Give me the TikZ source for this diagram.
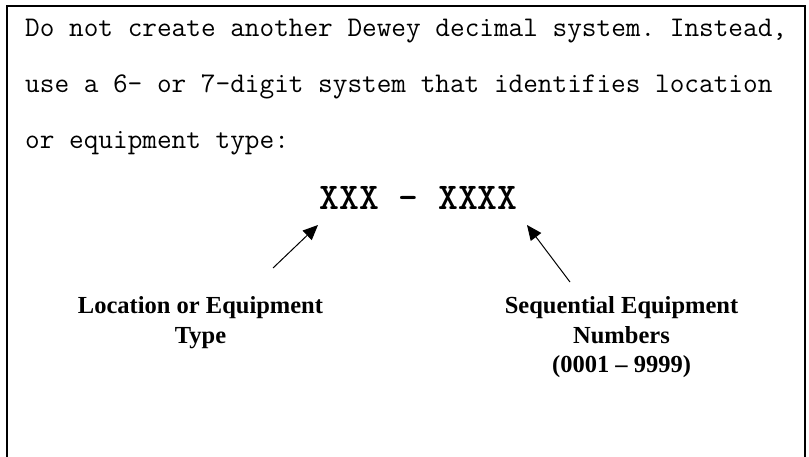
\documentclass[tikz,border=0pt]{standalone}
\usepackage{fontspec}
\setmainfont{Liberation Serif}
\usetikzlibrary{arrows.meta}
\frenchspacing
\tikzset{
  body/.style={anchor=base west, inner sep=0pt, font=\ttfamily\frenchspacing\fontsize{28.45}{28.45}\selectfont},
  code/.style={anchor=base, inner sep=0pt, font=\ttfamily\bfseries\fontsize{37.7}{37.7}\selectfont},
  lbl/.style={anchor=base, inner sep=0pt, font=\bfseries\fontsize{24.5}{24.5}\selectfont},
  pointer/.style={line width=1pt, -{Triangle[length=15pt,width=13pt]}}
}
\begin{document}
\begin{tikzpicture}[x=1pt,y=-1pt]
\useasboundingbox (0,0) rectangle (809,456);
\draw[line width=1.2pt] (7,470) -- (7,6) -- (805,6) -- (805,470);
\node[body] (l1) at (25,36) {Do not create another Dewey decimal system. Instead,};
\node[body] (l2) at (25,92) {use a 6- or 7-digit system that identifies location};
\node[body] (l3) at (25,148) {or equipment type:};
\node[code] (code) at (418.5,209) {XXX - XXXX};
\node[lbl] (locA) at (200.5,313) {Location or Equipment};
\node[lbl] (locB) at (200.5,343) {Type};
\node[lbl] (seqA) at (621.5,313) {Sequential Equipment};
\node[lbl] (seqB) at (621.5,343) {Numbers};
\node[lbl] (seqC) at (621.5,372) {(0001 – 9999)};
\coordinate (lt) at (273,268);
\coordinate (lh) at (318,225);
\coordinate (rt) at (570,282);
\coordinate (rh) at (527,225);
\draw[pointer] (lt) -- (lh);
\draw[pointer] (rt) -- (rh);
\end{tikzpicture}
\end{document}
